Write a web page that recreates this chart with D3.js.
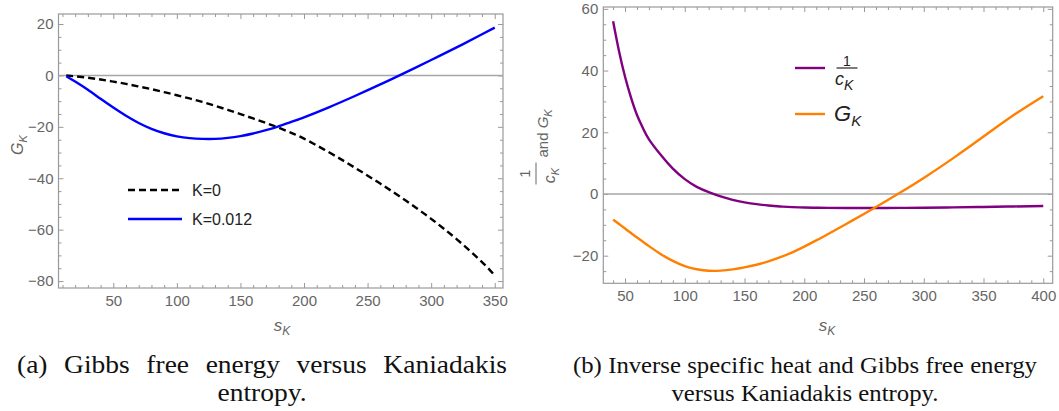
<!DOCTYPE html>
<html>
<head>
<meta charset="utf-8">
<script src="https://d3js.org/d3.v7.min.js"></script>
<style>
body { margin: 0; background: #fff; }
.tick text { font: 15px "Liberation Sans", Arial, sans-serif; fill: #666; }
.tick line { stroke: #999; }
.lbl { font-family: "Liberation Sans", Arial, sans-serif; fill: #666; font-style: italic; }
.leg { font-family: "Liberation Sans", Arial, sans-serif; fill: #222; }
.cap { font-family: "Liberation Serif", serif; fill: #111; }
</style>
</head>
<body>
<svg width="1059" height="411"></svg>
<script>
// (a) Gibbs free energy, K=0 and K=0.012
var sA    = [13, 20, 30, 40, 50, 60, 70, 80, 90, 100, 110, 120, 130, 140, 150, 160, 170, 180, 190, 200, 220, 240, 260, 280, 300, 320, 340, 350];
var gK0   = [0, -0.35, -0.9, -1.6, -2.4, -3.3, -4.3, -5.35, -6.5, -7.7, -8.95, -10.3, -11.8, -13.4, -15.05, -16.75, -18.5, -20.35, -22.35, -24.6, -30.0, -35.9, -42.1, -48.7, -55.8, -63.7, -72.6, -77.9];
var gK012 = [-0.3, -2.4, -5.6, -9.1, -12.5, -15.7, -18.5, -20.8, -22.5, -23.7, -24.4, -24.7, -24.7, -24.3, -23.6, -22.6, -21.3, -19.8, -18.1, -16.3, -12.3, -8.0, -3.5, 1.2, 6.0, 10.9, 16.0, 18.6];

// (b) inverse specific heat and Gibbs free energy
var sB   = [40, 45, 50, 55, 60, 65, 70, 80, 90, 100, 110, 120, 130, 140, 150, 160, 170, 180, 190, 200, 210, 220, 240, 260, 280, 300, 325, 350, 375, 400];
var invC = [56.0, 46.2, 38.0, 31.2, 25.6, 21.3, 17.7, 12.6, 8.2, 4.8, 2.3, 0.6, -0.8, -1.9, -2.7, -3.3, -3.75, -4.05, -4.25, -4.4, -4.45, -4.5, -4.55, -4.55, -4.5, -4.45, -4.35, -4.2, -4.05, -3.9];
var gB   = [-8.3, -9.75, -11.2, -12.65, -14.1, -15.5, -16.9, -19.5, -21.7, -23.4, -24.4, -24.9, -24.85, -24.45, -23.8, -22.95, -21.85, -20.5, -18.9, -17.05, -15.05, -12.95, -8.65, -4.2, 0.4, 5.2, 11.7, 18.6, 25.5, 31.7];

var xMajorA = [50, 100, 150, 200, 250, 300, 350];
var yMajorA = [-80, -60, -40, -20, 0, 20];
var xMajorB = [50, 100, 150, 200, 250, 300, 350, 400];
var yMajorB = [-20, 0, 20, 40, 60];

var svg = d3.select("svg");

function panel(o) {
  var x = d3.scaleLinear().domain(o.xd).range([o.l, o.r]);
  var y = d3.scaleLinear().domain(o.yd).range([o.b, o.t]);
  var g = svg.append("g");

  // minor ticks
  var xMin = d3.range(o.xmin[0], o.xmin[1] + 1, 10).filter(function(v) { return o.xMajor.indexOf(v) < 0; });
  var yMin = d3.range(o.ymin[0], o.ymin[1] + 1, 5).filter(function(v) { return o.yMajor.indexOf(v) < 0; });

  [[d3.axisBottom, o.b, true], [d3.axisTop, o.t, false]].forEach(function(a) {
    g.append("g").attr("transform", "translate(0," + a[1] + ")")
      .call(a[0](x).tickValues(o.xMajor).tickSize(-5).tickPadding(7).tickFormat(a[2] ? null : ""));
    g.append("g").attr("transform", "translate(0," + a[1] + ")")
      .call(a[0](x).tickValues(xMin).tickSize(-3).tickFormat(""));
  });
  [[d3.axisLeft, o.l, true], [d3.axisRight, o.r, false]].forEach(function(a) {
    g.append("g").attr("transform", "translate(" + a[1] + ",0)")
      .call(a[0](y).tickValues(o.yMajor).tickSize(-5).tickPadding(5).tickFormat(a[2] ? null : ""));
    g.append("g").attr("transform", "translate(" + a[1] + ",0)")
      .call(a[0](y).tickValues(yMin).tickSize(-3).tickFormat(""));
  });
  g.selectAll(".domain").remove();

  g.append("rect").attr("x", o.l).attr("y", o.t)
    .attr("width", o.r - o.l).attr("height", o.b - o.t)
    .attr("fill", "none").attr("stroke", "#999").attr("stroke-width", 1.2);

  g.append("line").attr("x1", o.l).attr("x2", o.r)
    .attr("y1", y(0)).attr("y2", y(0))
    .attr("stroke", "#a6a6a6").attr("stroke-width", 1.5);

  var line = d3.line()
    .x(function(d) { return x(d[0]); })
    .y(function(d) { return y(d[1]); })
    .curve(d3.curveNatural);

  o.series.forEach(function(s) {
    g.append("path")
      .datum(d3.zip(o.s, s.v))
      .attr("fill", "none")
      .attr("stroke", s.color)
      .attr("stroke-width", 2.4)
      .attr("stroke-dasharray", s.dash || null)
      .attr("d", line);
  });

  // x label
  var xl = g.append("text").attr("class", "lbl").attr("x", o.xlab).attr("y", 331)
    .attr("text-anchor", "middle").style("font-size", "17px");
  xl.append("tspan").text("s");
  xl.append("tspan").attr("dy", 4).style("font-size", "12px").text("K");
  return g;
}

panel({
  xd: [6.9, 356.5], yd: [-82.7, 23.9], l: 58.5, r: 503, t: 14, b: 288,
  xMajor: xMajorA, yMajor: yMajorA, xmin: [10, 350], ymin: [-80, 20],
  s: sA, xlab: 282,
  series: [
    { v: gK0, color: "#000", dash: "7,4" },
    { v: gK012, color: "#0000ff" }
  ]
});

panel({
  xd: [31.8, 407.9], yd: [-28.95, 60.6], l: 603.3, r: 1052.7, t: 7, b: 283.3,
  xMajor: xMajorB, yMajor: yMajorB, xmin: [40, 400], ymin: [-25, 60],
  s: sB, xlab: 827,
  series: [
    { v: invC, color: "#800080" },
    { v: gB, color: "#ff8000" }
  ]
});

// y label (a)
var ya = svg.append("text").attr("class", "lbl")
  .attr("transform", "translate(23,145) rotate(-90)")
  .attr("text-anchor", "middle").style("font-size", "16px");
ya.append("tspan").text("G");
ya.append("tspan").attr("dy", 4).style("font-size", "11px").text("K");

// y label (b): 1/c_K and G_K
var yb = svg.append("g").attr("transform", "translate(536,173.5) rotate(-90)");
yb.append("line").attr("x1", -11).attr("x2", 11).attr("stroke", "#666").attr("stroke-width", 1);
yb.append("text").attr("class", "lbl").style("font-style", "normal").style("font-size", "14px")
  .attr("y", -6).attr("text-anchor", "middle").text("1");
var cb = yb.append("text").attr("class", "lbl").style("font-size", "16px")
  .attr("x", -2).attr("y", 19).attr("text-anchor", "middle");
cb.append("tspan").text("c");
cb.append("tspan").attr("dy", 4).style("font-size", "11px").text("K");
var ab = yb.append("text").attr("class", "lbl").style("font-size", "15px").attr("x", 16).attr("y", 12);
ab.append("tspan").style("font-style", "normal").text("and ");
ab.append("tspan").text("G");
ab.append("tspan").attr("dy", 4).style("font-size", "11px").text("K");

// legend (a)
var legA = [{ label: "K=0", color: "#000", dash: "7,4", y: 190 }, { label: "K=0.012", color: "#0000ff", y: 219 }];
legA.forEach(function(d) {
  svg.append("line").attr("x1", 128).attr("x2", 182).attr("y1", d.y).attr("y2", d.y)
    .attr("stroke", d.color).attr("stroke-width", 2.4).attr("stroke-dasharray", d.dash || null);
  svg.append("text").attr("class", "leg").attr("x", 192).attr("y", d.y).attr("dy", "0.35em")
    .style("font-size", "16px").text(d.label);
});

// legend (b)
svg.append("line").attr("x1", 795).attr("x2", 825).attr("y1", 68).attr("y2", 68)
  .attr("stroke", "#800080").attr("stroke-width", 2.4);
svg.append("line").attr("x1", 795).attr("x2", 825).attr("y1", 114).attr("y2", 114)
  .attr("stroke", "#ff8000").attr("stroke-width", 2.4);
svg.append("line").attr("x1", 836.5).attr("x2", 857.5).attr("y1", 68).attr("y2", 68)
  .attr("stroke", "#333").attr("stroke-width", 1.3);
svg.append("text").attr("class", "leg").attr("x", 847).attr("y", 66)
  .attr("text-anchor", "middle").style("font-size", "14px").text("1");
var lc = svg.append("text").attr("class", "leg").attr("x", 835).attr("y", 85)
  .style("font-size", "18px").style("font-style", "italic");
lc.append("tspan").text("c");
lc.append("tspan").attr("dy", 5).style("font-size", "14px").text("K");
var lg = svg.append("text").attr("class", "leg").attr("x", 834).attr("y", 121)
  .style("font-size", "22px").style("font-style", "italic");
lg.append("tspan").text("G");
lg.append("tspan").attr("dy", 5).style("font-size", "15px").text("K");

// captions: first line justified like LaTeX, last line centred.
// glyphs widened a little to approach Computer Modern proportions
var stretch = 1.1;
var caps = [
  { x0: 17, x1: 507, size: 25, lines: ["(a) Gibbs free energy versus Kaniadakis", "entropy."] },
  { x0: 573, x1: 1037, size: 22.5, lines: ["(b) Inverse specific heat and Gibbs free energy", "versus Kaniadakis entropy."] }
];
caps.forEach(function(c) {
  var g1 = svg.append("g").attr("transform", "translate(" + c.x0 + ",373) scale(" + stretch + ",1)");
  var t1 = g1.append("text").attr("class", "cap").style("font-size", c.size + "px").text(c.lines[0]);
  var gap = ((c.x1 - c.x0) / stretch - t1.node().getComputedTextLength()) / (c.lines[0].split(" ").length - 1);
  t1.style("word-spacing", Math.max(gap, 0) + "px");
  svg.append("g").attr("transform", "translate(" + (c.x0 + c.x1) / 2 + ",401) scale(" + stretch + ",1)")
    .append("text").attr("class", "cap").style("font-size", c.size + "px")
    .attr("text-anchor", "middle").text(c.lines[1]);
});
</script>
</body>
</html>
